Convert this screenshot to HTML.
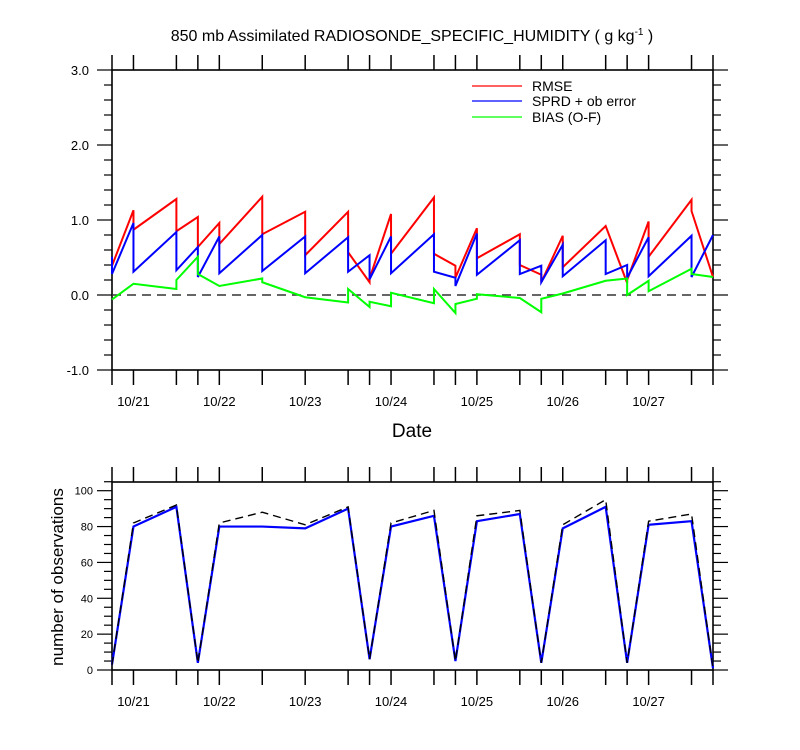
<!DOCTYPE html>
<html><head><meta charset="utf-8"><style>
html,body{margin:0;padding:0;background:#fff;}
svg{display:block;font-family:"Liberation Sans",sans-serif;}
</style></head><body>
<svg id="chart" width="800" height="750" viewBox="0 0 800 750" xmlns="http://www.w3.org/2000/svg">
<text x="412" y="41" font-size="16" text-anchor="middle">850 mb Assimilated RADIOSONDE_SPECIFIC_HUMIDITY ( g kg<tspan font-size="10" dy="-6">-1</tspan><tspan dy="6"> )</tspan></text>
<text x="412" y="437" font-size="19" text-anchor="middle">Date</text>
<text transform="translate(63,577) rotate(-90)" font-size="17" text-anchor="middle">number of observations</text>
<g>
 <line x1="472" y1="86" x2="522" y2="86" stroke="#f00" stroke-width="1.3"/>
 <text x="532" y="91" font-size="14">RMSE</text>
 <line x1="472" y1="101" x2="522" y2="101" stroke="#00f" stroke-width="1.3"/>
 <text x="532" y="106" font-size="14">SPRD + ob error</text>
 <line x1="472" y1="117" x2="522" y2="117" stroke="#0f0" stroke-width="1.3"/>
 <text x="532" y="122" font-size="14">BIAS (O-F)</text>
</g>
<g id="g"></g>
</svg>
<script>
// hours since 10/20 18Z
const times = [0,6,18,24,30,42,54,66,72,78,90,96,102,114,120,126,138,144,150,162,168];
const rmseBefore = [0.39,1.13,1.28,1.04,0.96,1.31,1.11,1.11,0.17,1.08,1.30,0.39,0.89,0.81,0.27,0.79,0.92,0.16,0.98,1.27,0.24];
const rmseAfter  = [0.39,0.87,0.85,0.64,0.68,0.81,0.53,0.57,0.22,0.55,0.55,0.23,0.49,0.40,0.17,0.37,0.92,0.20,0.51,1.12,0.24];
const sprdBefore = [0.51,0.96,0.84,0.64,0.78,0.80,0.78,0.77,0.53,0.78,0.81,0.23,0.82,0.73,0.39,0.67,0.73,0.40,0.77,0.79,0.80];
const sprdAfter  = [0.28,0.31,0.33,0.24,0.29,0.32,0.29,0.31,0.21,0.29,0.31,0.12,0.27,0.28,0.17,0.25,0.28,0.23,0.25,0.24,0.80];
const biasBefore = [-0.06,0.15,0.08,0.51,0.12,0.22,-0.03,-0.10,-0.16,-0.15,-0.11,-0.24,-0.05,-0.04,-0.23,0.02,0.19,0.22,0.19,0.35,0.24];
const biasAfter  = [-0.06,0.15,0.20,0.28,0.12,0.17,-0.03,0.08,-0.09,0.03,0.08,-0.12,0.01,-0.04,-0.05,0.02,0.19,0.00,0.05,0.28,0.24];
const obsUsed    = [3,80,91,4,80,80,79,90,6,80,86,5,83,87,4,79,91,4,81,83,1];
const obsTotal   = [3,82,92,4,82,88,81,91,6,82,89,5,86,89,4,81,95,4,83,87,1];
const dayLabels = ["10/21","10/22","10/23","10/24","10/25","10/26","10/27"];
const dayHours = [6,30,54,78,102,126,150];
const topTicks = [3.0,2.0,1.0,0.0,-1.0];
const botTicks = [0,20,40,60,80,100];

const NS="http://www.w3.org/2000/svg";
const G=document.getElementById('g');
const X0=112,X1=713;
const xs=t=>X0+t/168*(X1-X0);
const yTop=v=>295-v*75;
const yBot=v=>670-v*1.793;
function mk(tag,attrs,parent){const e=document.createElementNS(NS,tag);for(const k in attrs)e.setAttribute(k,attrs[k]);(parent||G).appendChild(e);return e;}

function frame(name,yt,yb){
  const f=mk('rect',{x:X0,y:yt,width:X1-X0,height:yb-yt,fill:'none',stroke:'#000','stroke-width':1.6});
  
  
  times.forEach(t=>{
    const x=xs(t);
    mk('line',{x1:x,y1:yt,x2:x,y2:yt-15,stroke:'#000','stroke-width':1.5});
    mk('line',{x1:x,y1:yb,x2:x,y2:yb+15,stroke:'#000','stroke-width':1.5});
  });
  dayLabels.forEach((d,i)=>{
    const t=mk('text',{x:xs(dayHours[i]),y:yb+36,'font-size':13,'text-anchor':'middle'});
    t.textContent=d;
    
    
  });
}
function seg(before,after,yf,color,name,w){
  let d='';
  times.forEach((t,i)=>{d+=(i?'L':'M')+xs(t)+','+yf(before[i])+'L'+xs(t)+','+yf(after[i]);});
  const p=mk('path',{d:d,fill:'none',stroke:color,'stroke-width':w||2,'stroke-linejoin':'miter'});
  
  
}

// top plot
frame('top-plot-frame',70,370);
for(let v=-1;v<=3.0001;v+=0.2){
  const y=yTop(v);const major=Math.abs(v-Math.round(v))<1e-6;const L=major?15:8;
  mk('line',{x1:X0,y1:y,x2:X0-L,y2:y,stroke:'#000','stroke-width':1.2});
  mk('line',{x1:X1,y1:y,x2:X1+L,y2:y,stroke:'#000','stroke-width':1.2});
}
topTicks.forEach(v=>{
  const t=mk('text',{x:89,y:yTop(v)+5,'font-size':13,'text-anchor':'end'});
  t.textContent=v.toFixed(1);
  
  
});
const zl=mk('line',{x1:X0,y1:yTop(0),x2:X1,y2:yTop(0),stroke:'#333','stroke-width':1.5,'stroke-dasharray':'9,6'});


seg(rmseBefore,rmseAfter,yTop,'#f00','rmse-line');
seg(sprdBefore,sprdAfter,yTop,'#00f','sprd-line');
seg(biasBefore,biasAfter,yTop,'#0f0','bias-line');

// bottom plot
frame('bottom-plot-frame',482,670);
for(let v=0;v<=105;v+=5){
  const y=yBot(v);const major=v%20===0;const L=major?15:8;
  mk('line',{x1:X0,y1:y,x2:X0-L,y2:y,stroke:'#000','stroke-width':1.2});
  mk('line',{x1:X1,y1:y,x2:X1+L,y2:y,stroke:'#000','stroke-width':1.2});
}
botTicks.forEach(v=>{
  const t=mk('text',{x:93,y:yBot(v)+4,'font-size':11,'text-anchor':'end'});
  t.textContent=v;
  
  
});
seg(obsUsed,obsUsed,yBot,'#00f','obs-used-line',2.2);
let d='';times.forEach((t,i)=>{d+=(i?'L':'M')+xs(t)+','+yBot(obsTotal[i]);});
const tl=mk('path',{d:d,fill:'none',stroke:'#000','stroke-width':1.4,'stroke-dasharray':'8,5'});


</script>
</body></html>
